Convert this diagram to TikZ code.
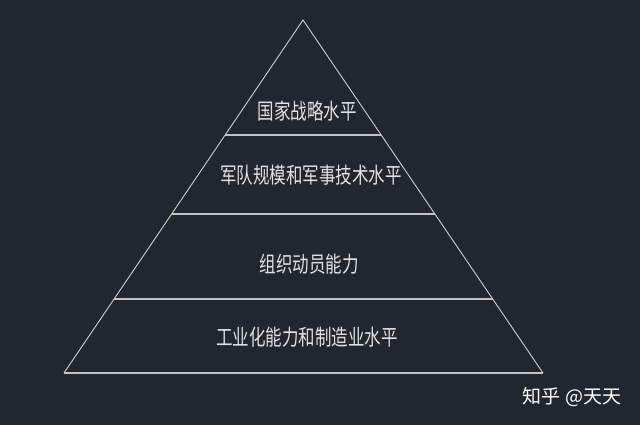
\documentclass[tikz,border=0pt]{standalone}
\usepackage{fontspec}
\usepackage{tikz}
\usetikzlibrary{calc}
\newfontfamily\cjk{Noto Sans CJK SC}
\definecolor{bgdark}{HTML}{22262E}
\definecolor{cadline}{HTML}{CFCFCF}
\definecolor{cadtext}{HTML}{E2E2E2}
\tikzset{
  level/.style={text=cadtext, font=\cjk\fontsize{16.5}{16.5}\selectfont, inner sep=0pt},
  edge/.style={draw=cadline, line width=0.9pt},
  cut/.style={draw=cadline!85!gray, line width=1.5pt},
}
\newcommand{\tall}[1]{\scalebox{1}[1.33]{#1}}

\begin{document}
\begin{tikzpicture}[x=1pt,y=-1pt]
                % Background
                \fill[bgdark] (0,0) rectangle (640,425);
                \useasboundingbox (0,0) rectangle (640,425);
                % Corners of the triangle
                \coordinate (apex) at (303,20);
                \coordinate (bl) at (64,373);
                \coordinate (br) at (543,373);
                % Draw the triangle
                \draw[edge] (bl) -- (apex) -- (br);
                \draw[cut] (bl) -- (br);
                % Draw the dividing lines
                \foreach \t/\n in {0.3258/a,0.5496/b,0.7904/c}{
                    \coordinate (l\n) at ($(apex)!\t!(bl)$);
                    \coordinate (r\n) at ($(apex)!\t!(br)$);
                    \draw[cut] (l\n) -- (r\n);
                }
                % Labels of the levels
                \node[level] (strategy) at (307,111) {\tall{国家战略水平}};
                \node[level] (army) at (311,175) {\tall{军队规模和军事技术水平}};
                \node[level] (mobilize) at (309,264) {\tall{组织动员能力}};
                \node[level] (industry) at (307,337) {\tall{工业化能力和制造业水平}};
                % Watermark
                \node[text=white, font=\cjk\fontsize{19}{19}\selectfont, inner sep=0pt] (mark) at (572,397) {知乎 @天天};
            \end{tikzpicture}
\end{document}
